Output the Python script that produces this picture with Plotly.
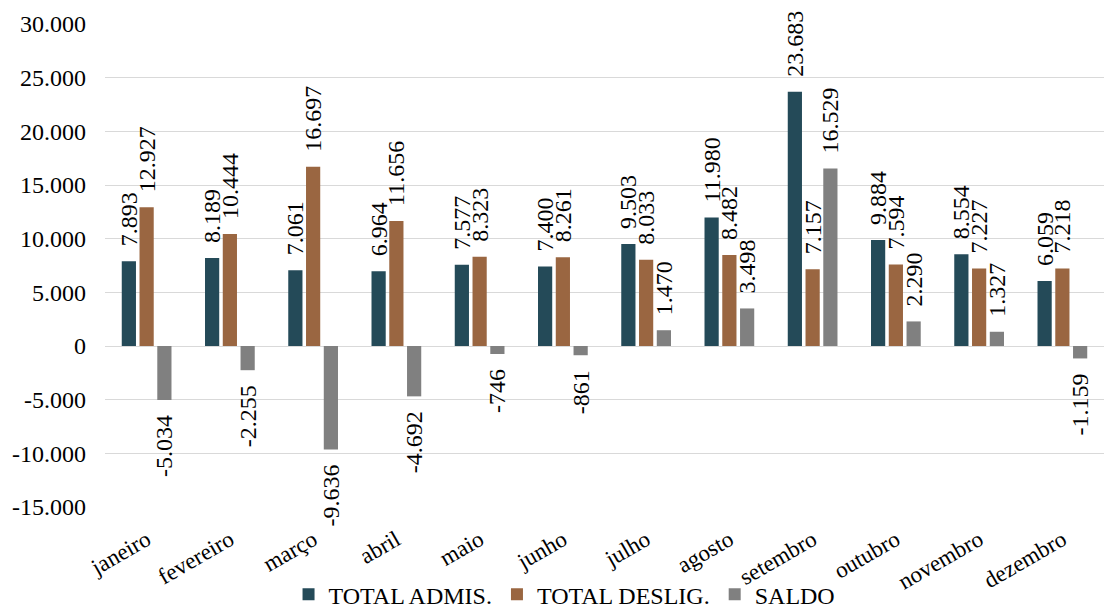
import plotly.graph_objects as go

meses = ["janeiro", "fevereiro", "março", "abril", "maio", "junho", "julho",
         "agosto", "setembro", "outubro", "novembro", "dezembro"]
admissoes = [7893, 8189, 7061, 6964, 7577, 7400, 9503, 11980, 23683, 9884, 8554, 6059]
desligamentos = [12927, 10444, 16697, 11656, 8323, 8261, 8033, 8482, 7157, 7594, 7227, 7218]
saldo = [-5034, -2255, -9636, -4692, -746, -861, 1470, 3498, 16529, 2290, 1327, -1159]

y_ticks = [30000, 25000, 20000, 15000, 10000, 5000, 0, -5000, -10000, -15000]


def br(v):
    return f"{v:,}".replace(",", ".")


# non-breaking spaces keep a gap between each bar end and its rotated label
GAP = "\u00a0\u00a0"


def rotulo(v):
    return GAP + br(v) if v >= 0 else br(v) + GAP


FONT = "Liberation Serif"

series = [
    ("TOTAL ADMIS.", admissoes, "#244a58"),
    ("TOTAL DESLIG.", desligamentos, "#9a6641"),
    ("SALDO", saldo, "#808080"),
]

fig = go.Figure()
for nome, valores, cor in series:
    fig.add_trace(go.Bar(
        name=nome,
        x=meses,
        y=valores,
        marker=dict(color=cor, line=dict(width=0)),
        text=[rotulo(v) for v in valores],
        textposition="outside",
        textangle=-90,
        textfont=dict(family=FONT, size=24, color="#000000"),
        cliponaxis=False,
        constraintext="none",
    ))

fig.update_layout(
    width=1107,
    height=612,
    margin=dict(l=105, r=3, t=24, b=105, autoexpand=False),
    paper_bgcolor="white",
    plot_bgcolor="white",
    barmode="group",
    bargap=0.36,
    bargroupgap=0.2,
    font=dict(family=FONT, size=23, color="#000000"),
    legend=dict(
        orientation="h",
        x=0.46,
        xanchor="center",
        y=-0.228,
        yanchor="bottom",
        bgcolor="rgba(0,0,0,0)",
        font=dict(family=FONT, size=24),
        itemwidth=30,
        tracegroupgap=0,
    ),
    xaxis=dict(
        tickangle=-30,
        tickfont=dict(family=FONT, size=23),
        ticklabelstandoff=14,
        showgrid=False,
        showline=False,
        ticks="",
        automargin=False,
    ),
    yaxis=dict(
        range=[-15000, 30000],
        tickvals=y_ticks,
        ticktext=[br(v) for v in y_ticks],
        tickfont=dict(family=FONT, size=24),
        ticklabelstandoff=18,
        showgrid=True,
        gridcolor="#d9d9d9",
        gridwidth=1.3,
        zeroline=True,
        zerolinecolor="#d9d9d9",
        zerolinewidth=1.3,
        showline=False,
        ticks="",
        automargin=False,
    ),
)

fig.write_html("out.html")
